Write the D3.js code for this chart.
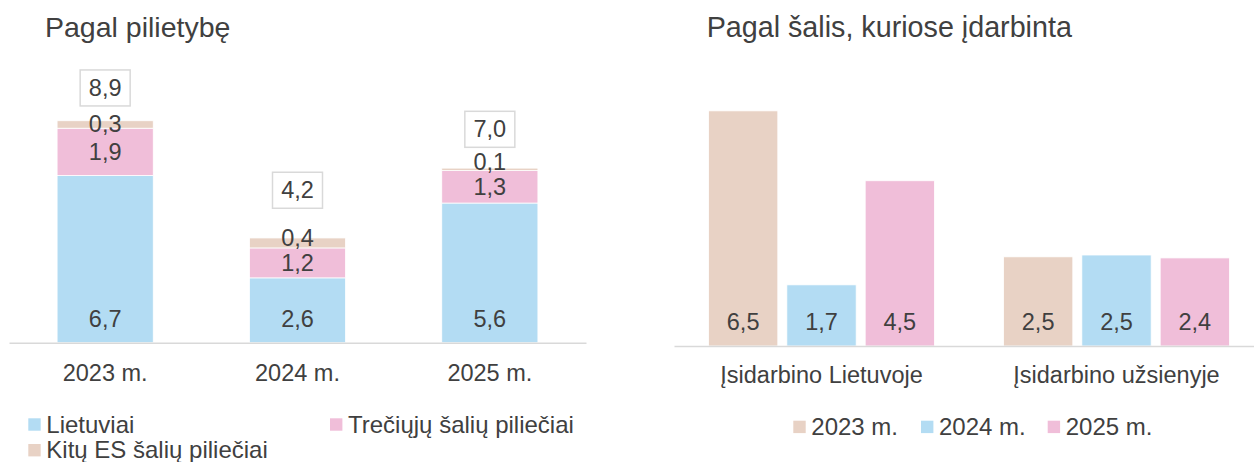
<!DOCTYPE html>
<html>
<head>
<meta charset="utf-8">
<script src="https://cdn.jsdelivr.net/npm/d3@7"></script>
<style>
  body { margin: 0; background: #fff; }
  svg { display: block; font-family: "Liberation Sans", Arial, sans-serif; }
  text { fill: #404040; }
</style>
</head>
<body>
<svg width="1254" height="462"></svg>
<script>
'use strict';

// left chart data (pagal pilietybe)
var years = ['2023 m.', '2024 m.', '2025 m.'];
var lietuviai = [6.7, 2.6, 5.6];
var treciuju = [1.9, 1.2, 1.3];
var kituES = [0.3, 0.4, 0.1];
var totals = [8.9, 4.2, 7.0];

// right chart data (pagal salis)
var places = ['Įsidarbino Lietuvoje', 'Įsidarbino užsienyje'];
var v2023 = [6.46, 2.45];
var v2024 = [1.68, 2.50];
var v2025 = [4.54, 2.42];

var BLUE = '#b3dcf3', PINK = '#f0bed9', BEIGE = '#e8d2c5';
var FS = '23.5px';
var FSLEG = '24px';

var fmt = function(v){
	return d3.format('.1f')(v).replace('.', ',');
};

var svg = d3.select('svg');
svg.append('rect').attr('width', 1254).attr('height', 462).attr('fill', '#fff');

/* LEFT CHART */

svg.append('text').attr('x', 45).attr('y', 37)
	.style('font-size', '28.5px').text('Pagal pilietybę');

var xL = d3.scaleBand().domain(years).range([9, 586]).paddingInner(0.5).paddingOuter(0.25);
var yL = d3.scaleLinear().domain([0, 10]).range([342.7, 93.3]);
// total boxes sit on their own (secondary) scale
var yTot = d3.scaleLinear().domain([0, 10]).range([281.7, 64]);

var rows = years.map(function(y, i){
	return {year: y, lt: lietuviai[i], tr: treciuju[i], es: kituES[i]};
});
var keys = ['lt', 'tr', 'es'];
var colL = {lt: BLUE, tr: PINK, es: BEIGE};
var layers = d3.stack().keys(keys)(rows);

var left = svg.append('g');

left.selectAll('g.layer').data(layers).enter().append('g')
	.attr('fill', function(d){ return colL[d.key]; })
	.selectAll('rect').data(function(d){ return d; }).enter().append('rect')
	.attr('x', function(d){ return xL(d.data.year); })
	.attr('width', xL.bandwidth())
	.attr('y', function(d){ return yL(d[1]); })
	.attr('height', function(d){ return yL(d[0]) - yL(d[1]); })
	.attr('stroke', '#fff').attr('stroke-width', 0.8);

// segment labels
rows.forEach(function(r, i){
	var cx = xL(r.year) + xL.bandwidth() / 2;
	var s = layers.map(function(l){ return l[i]; });
	var yLt = yL(0) - 24;
	var yTr = (yL(s[1][0]) + yL(s[1][1])) / 2;
	var yEs = (yL(s[2][0]) + yL(s[2][1])) / 2;
	if (yTr - yEs < 24.5) yEs = yTr - 24.5; //push up when too close
	[[r.lt, yLt], [r.tr, yTr], [r.es, yEs]].forEach(function(p){
		left.append('text').attr('x', cx).attr('y', p[1])
			.attr('text-anchor', 'middle').attr('dominant-baseline', 'central')
			.style('font-size', FS).text(fmt(p[0]));
	});
});

// total boxes
var tot = left.selectAll('g.tot').data(totals).enter().append('g')
	.attr('transform', function(d, i){
		return 'translate(' + (xL(years[i]) + xL.bandwidth() / 2) + ',' + yTot(d) + ')';
	});
tot.append('rect').attr('x', -25).attr('y', -18).attr('width', 50).attr('height', 36)
	.attr('fill', '#fff').attr('stroke', '#d9d9d9').attr('stroke-width', 1.5);
tot.append('text').attr('text-anchor', 'middle').attr('dominant-baseline', 'central')
	.style('font-size', FS).text(function(d){ return fmt(d); });

var axL = left.append('g').attr('transform', 'translate(0,' + yL(0) + ')')
	.call(d3.axisBottom(xL).tickSize(0).tickPadding(21.6));
axL.select('.domain').attr('stroke', '#d9d9d9').attr('stroke-width', 1.5);
axL.selectAll('text').style('font-size', FS).attr('fill', '#404040')
	.style('font-family', '"Liberation Sans", Arial, sans-serif');

// legend left
var legL = [
	{name: 'Lietuviai', c: BLUE, x: 28.3, y: 418.3},
	{name: 'Trečiųjų šalių piliečiai', c: PINK, x: 330, y: 418.3},
	{name: 'Kitų ES šalių piliečiai', c: BEIGE, x: 28.3, y: 444}
];
var li = svg.selectAll('g.legL').data(legL).enter().append('g')
	.attr('transform', function(d){ return 'translate(' + d.x + ',' + d.y + ')'; });
li.append('rect').attr('width', 12.4).attr('height', 12.4).attr('fill', function(d){ return d.c; });
li.append('text').attr('x', 18).attr('y', 14.2).style('font-size', FSLEG)
	.text(function(d){ return d.name; });

/* RIGHT CHART */

svg.append('text').attr('x', 706.7).attr('y', 36.5)
	.style('font-size', '28.7px').text('Pagal šalis, kuriose įdarbinta');

var series = [
	{name: '2023 m.', vals: v2023, c: BEIGE},
	{name: '2024 m.', vals: v2024, c: BLUE},
	{name: '2025 m.', vals: v2025, c: PINK}
];

var xR0 = d3.scaleBand().domain(places).range([674, 1264]);
var xR1 = d3.scaleBand().domain(series.map(function(s){ return s.name; }))
	.range([0, xR0.bandwidth()]).paddingInner(0.115).paddingOuter(0.44);
var yR = d3.scaleLinear().domain([0, 7]).range([346, 91.2]);

var right = svg.append('g');

var grp = right.selectAll('g.grp').data(places).enter().append('g')
	.attr('transform', function(d){ return 'translate(' + xR0(d) + ',0)'; });

grp.selectAll('rect').data(function(p, i){
		return series.map(function(s){ return {name: s.name, v: s.vals[i], c: s.c}; });
	}).enter().append('rect')
	.attr('x', function(d){ return xR1(d.name); })
	.attr('width', xR1.bandwidth())
	.attr('y', function(d){ return yR(d.v); })
	.attr('height', function(d){ return yR(0) - yR(d.v); })
	.attr('fill', function(d){ return d.c; })
	.attr('stroke', '#fff').attr('stroke-width', 0.8);

grp.selectAll('text').data(function(p, i){
		return series.map(function(s){ return {name: s.name, v: s.vals[i]}; });
	}).enter().append('text')
	.attr('x', function(d){ return xR1(d.name) + xR1.bandwidth() / 2; })
	.attr('y', yR(0) - 24)
	.attr('text-anchor', 'middle').attr('dominant-baseline', 'central')
	.style('font-size', FS).text(function(d){ return fmt(d.v); });

var axR = right.append('g').attr('transform', 'translate(0,' + yR(0) + ')')
	.call(d3.axisBottom(xR0).tickSize(0).tickPadding(20));
axR.select('.domain').attr('stroke', '#d9d9d9').attr('stroke-width', 1.5);
axR.selectAll('text').style('font-size', FS).attr('fill', '#404040')
	.style('font-family', '"Liberation Sans", Arial, sans-serif');

// legend right
var legX = [793.3, 921, 1047.7];
var ri = svg.selectAll('g.legR').data(series).enter().append('g')
	.attr('transform', function(d, i){ return 'translate(' + legX[i] + ',420.7)'; });
ri.append('rect').attr('width', 12.4).attr('height', 12.4).attr('fill', function(d){ return d.c; });
ri.append('text').attr('x', 18).attr('y', 13.8).style('font-size', FSLEG)
	.text(function(d){ return d.name; });
</script>
</body>
</html>
